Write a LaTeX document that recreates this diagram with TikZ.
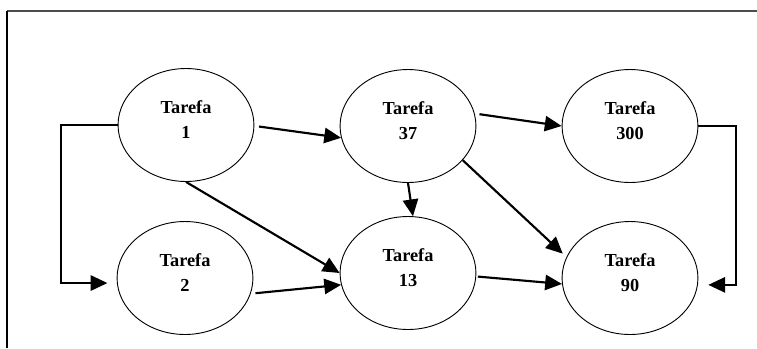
\documentclass[tikz,border=0pt]{standalone}
\usepackage{fontspec}
\setmainfont{Liberation Serif}
\usetikzlibrary{shapes.geometric,arrows.meta}

\begin{document}
\begin{tikzpicture}[x=0.655pt, y=-0.655pt,
	tarefa/.style={ellipse, draw, line width=0.6pt, minimum width=89pt, minimum height=74pt, inner sep=0pt},
	rotulo/.style={font=\bfseries\fontsize{12}{16.4}\selectfont, align=center, inner sep=0pt, yshift=3.6pt},
	seta/.style={line width=1.4pt, -{Triangle[length=11pt,width=10pt]}}]
	\useasboundingbox (0,0) rectangle (757,348);

	\draw[line width=1.4pt, black!70] (7,11) -- (757,11);
	\draw[line width=1.1pt] (7,11) -- (7,348);

	\node[tarefa] (t1) at (186,125) {};
	\node[tarefa] (t2) at (185,278) {};

	\node[tarefa] (t37) at (408,126) {};
	\node[tarefa] (t13) at (408,273) {};

	\node[tarefa] (t300) at (630,126) {};
	\node[tarefa] (t90) at (630,278) {};

	\node[rotulo] (r1) at (t1) {Tarefa\\1};
	\node[rotulo] (r2) at (t2) {Tarefa\\2};
	\node[rotulo] (r37) at (t37) {Tarefa\\37};
	\node[rotulo] (r13) at (t13) {Tarefa\\13};
	\node[rotulo] (r300) at (t300) {Tarefa\\300};
	\node[rotulo] (r90) at (t90) {Tarefa\\90};




	\draw[seta] (t1.west) -- ++(-57,0) |- ([xshift=-6pt,yshift=-3.3pt]t2.west);
	\draw[seta] ([xshift=3pt,yshift=-1pt]t1.east) -- (t37.190);
	\draw[seta] (t1.south) -- (t13.west);

	\draw[seta] ([xshift=3pt]t2.-13) -- (t13.190);

	\draw[seta] (t37.south) -- (t13.85);
	\draw[seta] ([xshift=3pt]t37.10) -- (t300.west);
	\draw[seta] (t37.-32) -- ([xshift=-3pt,yshift=1pt]t90.160);

	\draw[seta] ([xshift=1pt]t13.-3) -- (t90.185);

	\draw[seta] (t300.east) -- ++(38,0) |- ([xshift=6.5pt,yshift=-4.5pt]t90.east);
\end{tikzpicture}
\end{document}
